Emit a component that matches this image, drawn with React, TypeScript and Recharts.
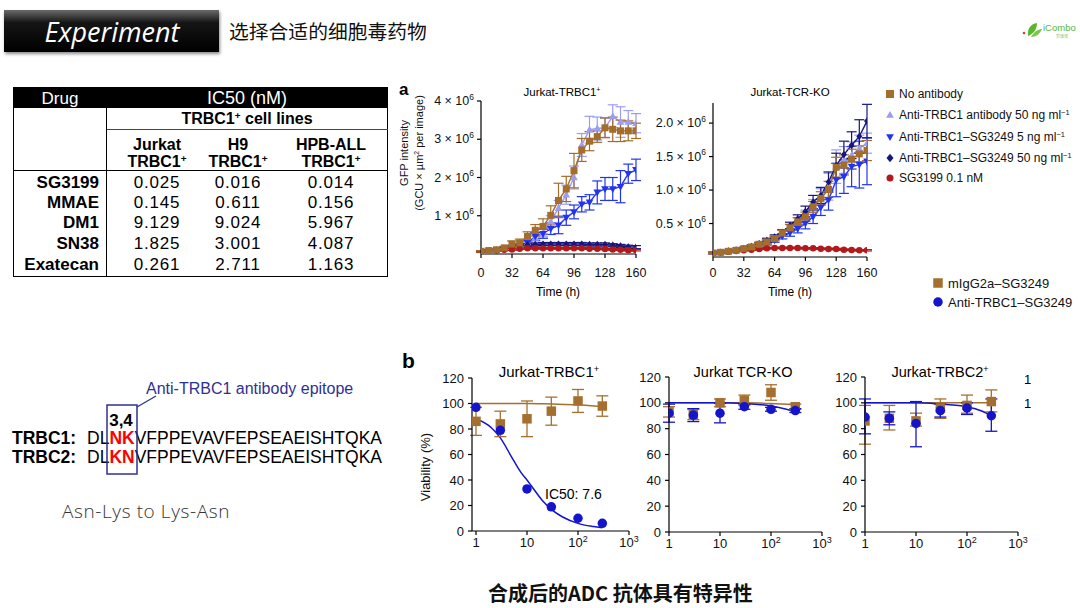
import React from 'react';
import { LineChart, Line, XAxis, YAxis, ErrorBar, ComposedChart, Scatter } from 'recharts';

const FONT = '"Liberation Sans", Arial, Helvetica, sans-serif';
const CJK = '"Noto Sans CJK SC", "Noto Sans", sans-serif';

// ---------------- Table data ----------------
const drugs = ['SG3199', 'MMAE', 'DM1', 'SN38', 'Exatecan'];
const cellLines = ['Jurkat', 'H9', 'HPB-ALL'];
const ic50Jurkat = ['0.025', '0.145', '9.129', '1.825', '0.261'];
const ic50H9 = ['0.016', '0.611', '9.024', '3.001', '2.711'];
const ic50HPB = ['0.014', '0.156', '5.967', '4.087', '1.163'];

// ---------------- Panel a: time courses (values in 10^6 GCU x um2 per image) ----------------
const hours = [0, 8, 16, 24, 32, 40, 48, 56, 64, 72, 80, 88, 96, 104, 112, 120, 128, 136, 144, 152, 160];
const hourTicks = [0, 32, 64, 96, 128, 160];

const a1NoAb = [0.07, 0.09, 0.11, 0.16, 0.26, 0.29, 0.46, 0.62, 0.72, 1.01, 1.4, 1.7, 2.18, 2.72, 2.95, 3.07, 3.3, 3.26, 3.22, 3.22, 3.22];
const a1NoAbErr = [0.02, 0.02, 0.03, 0.04, 0.08, 0.1, 0.12, 0.15, 0.2, 0.25, 0.45, 0.33, 0.45, 0.3, 0.25, 0.15, 0.26, 0.32, 0.28, 0.26, 0.2];
const a1Lav = [0.06, 0.08, 0.1, 0.13, 0.18, 0.22, 0.3, 0.42, 0.55, 0.85, 1.2, 1.55, 2.0, 2.85, 3.25, 3.28, 3.3, 3.6, 3.45, 3.45, 3.42];
const a1LavErr = [0.02, 0.02, 0.02, 0.03, 0.04, 0.05, 0.06, 0.08, 0.1, 0.15, 0.2, 0.25, 0.3, 0.3, 0.35, 0.3, 0.25, 0.3, 0.4, 0.3, 0.25];
const a1Blue = [0.06, 0.08, 0.1, 0.13, 0.18, 0.22, 0.29, 0.46, 0.53, 0.66, 0.75, 0.95, 1.1, 1.3, 1.35, 1.61, 1.7, 1.7, 1.76, 2.1, 2.2];
const a1BlueErr = [0.02, 0.02, 0.02, 0.03, 0.04, 0.05, 0.06, 0.1, 0.12, 0.15, 0.22, 0.2, 0.18, 0.2, 0.2, 0.3, 0.3, 0.3, 0.42, 0.25, 0.28];
const a1Navy = [0.06, 0.08, 0.1, 0.13, 0.17, 0.21, 0.24, 0.25, 0.26, 0.26, 0.26, 0.26, 0.26, 0.26, 0.25, 0.25, 0.25, 0.23, 0.21, 0.19, 0.18];
const a1NavyErr = [0.01, 0.01, 0.02, 0.02, 0.03, 0.03, 0.04, 0.04, 0.04, 0.04, 0.04, 0.04, 0.04, 0.04, 0.04, 0.04, 0.04, 0.04, 0.04, 0.04, 0.04];
const a1Red = [0.06, 0.07, 0.09, 0.11, 0.12, 0.14, 0.15, 0.15, 0.15, 0.15, 0.15, 0.15, 0.15, 0.15, 0.14, 0.14, 0.13, 0.12, 0.11, 0.1, 0.1];
const a1RedErr = [0.01, 0.01, 0.01, 0.02, 0.02, 0.02, 0.02, 0.02, 0.02, 0.02, 0.02, 0.02, 0.02, 0.02, 0.02, 0.02, 0.02, 0.02, 0.02, 0.02, 0.02];
const a1YTicks = [1e6, 2e6, 3e6, 4e6];
const a1YMant = ['1', '2', '3', '4'];

const a2NoAb = [0.06, 0.07, 0.085, 0.1, 0.125, 0.15, 0.19, 0.225, 0.275, 0.36, 0.435, 0.525, 0.6, 0.75, 0.875, 1.01, 1.34, 1.375, 1.46, 1.54, 1.59];
const a2NoAbErr = [0.01, 0.01, 0.01, 0.01, 0.015, 0.02, 0.02, 0.03, 0.03, 0.04, 0.05, 0.06, 0.07, 0.08, 0.1, 0.12, 0.15, 0.15, 0.15, 0.12, 0.15];
const a2Lav = [0.06, 0.07, 0.085, 0.1, 0.12, 0.15, 0.19, 0.23, 0.28, 0.36, 0.44, 0.53, 0.62, 0.76, 0.9, 1.05, 1.35, 1.45, 1.52, 1.62, 1.7];
const a2LavErr = [0.01, 0.01, 0.01, 0.01, 0.015, 0.02, 0.02, 0.03, 0.03, 0.04, 0.05, 0.06, 0.08, 0.1, 0.12, 0.2, 0.25, 0.2, 0.2, 0.2, 0.15];
const a2Blue = [0.06, 0.07, 0.085, 0.1, 0.12, 0.14, 0.17, 0.21, 0.25, 0.31, 0.36, 0.42, 0.5, 0.6, 0.74, 0.85, 1.15, 1.2, 1.35, 1.38, 1.43];
const a2BlueErr = [0.01, 0.01, 0.01, 0.01, 0.015, 0.02, 0.02, 0.03, 0.03, 0.04, 0.05, 0.06, 0.08, 0.1, 0.12, 0.15, 0.25, 0.25, 0.3, 0.35, 0.35];
const a2Navy = [0.06, 0.07, 0.09, 0.105, 0.13, 0.16, 0.2, 0.25, 0.3, 0.37, 0.47, 0.57, 0.68, 0.82, 0.92, 1.12, 1.37, 1.53, 1.67, 1.8, 2.03];
const a2NavyErr = [0.01, 0.01, 0.01, 0.01, 0.015, 0.02, 0.02, 0.03, 0.03, 0.04, 0.05, 0.06, 0.08, 0.1, 0.12, 0.15, 0.18, 0.2, 0.2, 0.25, 0.25];
const a2Red = [0.06, 0.07, 0.08, 0.09, 0.1, 0.11, 0.12, 0.13, 0.135, 0.135, 0.135, 0.135, 0.13, 0.13, 0.125, 0.12, 0.12, 0.11, 0.105, 0.1, 0.1];
const a2RedErr = [0.01, 0.01, 0.01, 0.01, 0.01, 0.01, 0.01, 0.01, 0.01, 0.01, 0.01, 0.01, 0.01, 0.01, 0.01, 0.01, 0.01, 0.01, 0.01, 0.01, 0.01];
const a2YTicks = [0.5e6, 1e6, 1.5e6, 2e6];
const a2YMant = ['0.5', '1.0', '1.5', '2.0'];

const aLegend = [
  'No antibody',
  'Anti-TRBC1 antibody 50 ng ml',
  'Anti-TRBC1–SG3249 5 ng ml',
  'Anti-TRBC1–SG3249 50 ng ml',
  'SG3199 0.1 nM',
];

// ---------------- Panel b: viability vs dose ----------------
const bDoses = [1, 3, 10, 30, 100, 300];
const bXTicks = [1, 10, 100, 1000];
const bXTickBase = ['1', '10', '10', '10'];
const bXTickSup = ['', '', '2', '3'];
const bYTicks = [0, 20, 40, 60, 80, 100, 120];

const b1Ctrl = [86, 84, 88, 94, 102, 98];
const b1CtrlErr = [11, 10, 14, 11, 9, 8];
const b1Anti = [97, 79, 33, 19, 10, 6];
const b1CtrlFitX = [1, 3, 10, 30, 100, 300];
const b1CtrlFitY = [100, 100, 100, 99.6, 99, 97.5];
const b1AntiFitX = [1, 2, 3, 5, 7.6, 10, 20, 30, 50, 100, 200, 300];
const b1AntiFitY = [88, 81, 73, 58, 46, 40, 24, 17, 11, 6, 3.5, 2.5];

const b2Ctrl = [93, 91, 100, 102, 108, 97];
const b2CtrlErr = [4, 4, 3, 4, 6, 2];
const b2Anti = [92, 90.5, 92, 97, 95, 94];
const b2AntiErr = [7, 5, 7.5, 2, 1.5, 1.5];
const b2CtrlFitX = [1, 10, 30, 100, 300];
const b2CtrlFitY = [100, 100, 100, 99.5, 98.5];
const b2AntiFitX = [1, 10, 30, 100, 200, 300];
const b2AntiFitY = [100, 100, 99.5, 97.5, 95, 93];

const b3Ctrl = [86, 88, 86, 96, 98, 101];
const b3CtrlErr = [[18, 12], [9, 10], [4, 6], [8, 7], [6, 8], [8, 9]];
const b3Anti = [89, 88, 84, 94, 96, 90];
const b3AntiErr = [[13, 14], [5, 5], [18, 17], [5, 5], [5, 4], [12, 13]];
const b3CtrlFitX = [1, 10, 100, 300];
const b3CtrlFitY = [100, 100, 100, 100];
const b3AntiFitX = [1, 10, 30, 100, 200, 300];
const b3AntiFitY = [100, 100, 99, 97, 93.5, 90];

// ---------------- colours ----------------
const C_BROWN = '#a36d2c';
const C_LAV = '#9c9cf3';
const C_BLUE = '#2234f2';
const C_NAVY = '#16167c';
const C_RED = '#b2191b';
const B_BROWN = '#a5702f';
const B_BLUE = '#1414cc';
const NAVY_TXT = '#2e3192';

// ---------------- helpers ----------------
const Mark = ({ shape, cx, cy, s, fill }: any) => {
  if (cx == null || cy == null || isNaN(cx) || isNaN(cy)) return <g />;
  const h = s / 2;
  if (shape === 'square') return <rect x={cx - h} y={cy - h} width={s} height={s} fill={fill} />;
  if (shape === 'up')
    return <polygon points={`${cx},${cy - h * 1.15} ${cx + h * 1.1},${cy + h * 0.8} ${cx - h * 1.1},${cy + h * 0.8}`} fill={fill} />;
  if (shape === 'down')
    return <polygon points={`${cx},${cy + h * 1.15} ${cx + h * 1.1},${cy - h * 0.8} ${cx - h * 1.1},${cy - h * 0.8}`} fill={fill} />;
  if (shape === 'diamond')
    return <polygon points={`${cx},${cy - h * 1.2} ${cx + h},${cy} ${cx},${cy + h * 1.2} ${cx - h},${cy}`} fill={fill} />;
  return <circle cx={cx} cy={cy} r={h} fill={fill} />;
};

const dotOf = (shape: string, s: number, fill: string) => (p: any) => (
  <Mark key={`m-${p.index}`} shape={shape} cx={p.cx} cy={p.cy} s={s} fill={fill} />
);

const SciTick = ({ x, y, payload, ticks, mants }: any) => {
  const i = ticks.indexOf(payload.value);
  if (i < 0) return <g />;
  return (
    <text x={x} y={y} textAnchor="end" dominantBaseline="central" fontSize={12.5} fontFamily={FONT} fill="#111">
      <tspan>{mants[i]} × 10</tspan>
      <tspan dy={-4.5} fontSize={8.5}>6</tspan>
    </text>
  );
};

const LogTick = ({ x, y, payload }: any) => {
  const i = bXTicks.indexOf(payload.value);
  if (i < 0) return <g />;
  return (
    <text x={x} y={y} textAnchor="middle" dy="0.71em" fontSize={13} fontFamily={FONT} fill="#111">
      <tspan>{bXTickBase[i]}</tspan>
      {bXTickSup[i] ? (
        <tspan dy={-5} fontSize={9}>
          {bXTickSup[i]}
        </tspan>
      ) : null}
    </text>
  );
};

const Txt = ({ x, y, children, size = 12, anchor = 'start', weight = 400, color = '#000', family = FONT, style = {} }: any) => {
  const tx = anchor === 'middle' ? '-50%' : anchor === 'end' ? '-100%' : '0';
  return (
    <div
      style={{
        position: 'absolute',
        left: x,
        top: y,
        transform: `translate(${tx},-50%)`,
        fontSize: size,
        fontWeight: weight,
        color,
        fontFamily: family,
        whiteSpace: 'nowrap',
        lineHeight: 1,
        ...style,
      }}
    >
      {children}
    </div>
  );
};

const Sup = ({ children }: any) => (
  <span style={{ fontSize: '0.62em', position: 'relative', top: '-0.55em' }}>{children}</span>
);

const axisStroke = { stroke: '#000', strokeWidth: 1.2 };

const buildTime = (noAb: number[], noAbE: number[], lav: number[], lavE: number[], blue: number[], blueE: number[], navy: number[], navyE: number[], red: number[], redE: number[]) =>
  hours.map((t, i) => ({
    t,
    lav: lav[i] * 1e6,
    lavErr: lavE[i] * 1e6,
    blue: blue[i] * 1e6,
    blueErr: blueE[i] * 1e6,
    navy: navy[i] * 1e6,
    navyErr: navyE[i] * 1e6,
    red: red[i] * 1e6,
    redErr: redE[i] * 1e6,
    noAb: noAb[i] * 1e6,
    noAbErr: noAbE[i] * 1e6,
  }));

const a1Data = buildTime(a1NoAb, a1NoAbErr, a1Lav, a1LavErr, a1Blue, a1BlueErr, a1Navy, a1NavyErr, a1Red, a1RedErr);
const a2Data = buildTime(a2NoAb, a2NoAbErr, a2Lav, a2LavErr, a2Blue, a2BlueErr, a2Navy, a2NavyErr, a2Red, a2RedErr);

const SERIES = [
  { key: 'lav', color: C_LAV, shape: 'up', size: 7 },
  { key: 'blue', color: C_BLUE, shape: 'down', size: 7 },
  { key: 'navy', color: C_NAVY, shape: 'diamond', size: 6 },
  { key: 'red', color: C_RED, shape: 'circle', size: 6.5 },
  { key: 'noAb', color: C_BROWN, shape: 'square', size: 7 },
];

function TimeChart({ left, top, width, height, margin, yAxisW, data, yMax, yTicks, yMants, xTickMargin }: any) {
  return (
    <div style={{ position: 'absolute', left, top }}>
      <LineChart width={width} height={height} data={data} margin={margin}>
        <XAxis
          type="number"
          dataKey="t"
          domain={[0, 160]}
          allowDataOverflow
          ticks={hourTicks}
          interval={0}
          height={40}
          tickSize={4}
          tickMargin={xTickMargin}
          axisLine={axisStroke}
          tickLine={axisStroke}
          tick={{ fontSize: 12.5, fill: '#111', fontFamily: FONT }}
        />
        <YAxis
          type="number"
          domain={[0, yMax]}
          allowDataOverflow
          ticks={yTicks}
          interval={0}
          width={yAxisW}
          tickSize={4}
          tickMargin={3}
          axisLine={axisStroke}
          tickLine={axisStroke}
          tick={(p: any) => <SciTick x={p.x} y={p.y} payload={p.payload} ticks={yTicks} mants={yMants} />}
        />
        {SERIES.map((s) => (
          <Line
            key={s.key}
            dataKey={s.key}
            type="linear"
            stroke={s.color}
            strokeWidth={1.4}
            dot={dotOf(s.shape, s.size, s.color)}
            activeDot={false}
            isAnimationActive={false}
          >
            <ErrorBar dataKey={s.key + 'Err'} direction="y" width={5} stroke={s.color} strokeWidth={1.2} />
          </Line>
        ))}
      </LineChart>
    </div>
  );
}

const toPts = (ys: number[], errs: any) => bDoses.map((x, i) => ({ x, y: ys[i], e: errs ? errs[i] : 0 }));
const toFit = (xs: number[], ys: number[]) => xs.map((x, i) => ({ x, y: ys[i] }));

function DoseChart({ left, top, width, height, margin, yAxisW, xMin, ctrl, ctrlErr, anti, antiErr, ctrlFit, antiFit }: any) {
  const ctrlPts = toPts(ctrl, ctrlErr);
  const antiPts = toPts(anti, antiErr);
  return (
    <div style={{ position: 'absolute', left, top }}>
      <ComposedChart width={width} height={height} margin={margin}>
        <XAxis
          type="number"
          dataKey="x"
          scale="log"
          domain={[xMin, 1000]}
          allowDataOverflow
          ticks={bXTicks}
          interval={0}
          height={30}
          tickSize={4}
          tickMargin={3}
          axisLine={axisStroke}
          tickLine={axisStroke}
          tick={(p: any) => <LogTick x={p.x} y={p.y} payload={p.payload} />}
        />
        <YAxis
          type="number"
          domain={[0, 120]}
          allowDataOverflow
          ticks={bYTicks}
          interval={0}
          width={yAxisW}
          tickSize={4}
          tickMargin={4}
          axisLine={axisStroke}
          tickLine={axisStroke}
          tick={{ fontSize: 13, fill: '#111', fontFamily: FONT }}
        />
        <Line data={ctrlFit} dataKey="y" type="monotone" stroke={B_BROWN} strokeWidth={1.5} dot={false} activeDot={false} isAnimationActive={false} />
        <Line data={antiFit} dataKey="y" type="monotone" stroke={B_BLUE} strokeWidth={1.5} dot={false} activeDot={false} isAnimationActive={false} />
        <Scatter
          data={ctrlPts}
          dataKey="y"
          fill={B_BROWN}
          isAnimationActive={false}
          shape={(p: any) => <Mark shape="square" cx={p.cx} cy={p.cy} s={9.5} fill={B_BROWN} />}
        >
          {ctrlErr ? <ErrorBar dataKey="e" direction="y" width={6} stroke={B_BROWN} strokeWidth={1.3} /> : null}
        </Scatter>
        <Scatter
          data={antiPts}
          dataKey="y"
          fill={B_BLUE}
          isAnimationActive={false}
          shape={(p: any) => <Mark shape="circle" cx={p.cx} cy={p.cy} s={9.5} fill={B_BLUE} />}
        >
          {antiErr ? <ErrorBar dataKey="e" direction="y" width={6} stroke={B_BLUE} strokeWidth={1.3} /> : null}
        </Scatter>
      </ComposedChart>
    </div>
  );
}

const tableCols = [157, 238, 331];
const tableRows = [182, 202, 222, 243, 264];

export default function App() {
  const aLegendShapes = ['square', 'up', 'down', 'diamond', 'circle'];
  const aLegendColors = [C_BROWN, C_LAV, C_BLUE, C_NAVY, C_RED];
  const aLegendY = [94, 115, 137, 158, 178];
  return (
    <div style={{ position: 'absolute', left: 0, top: 0, width: 1080, height: 608, background: '#fff', overflow: 'hidden', fontFamily: FONT }}>
      {/* Header */}
      <div
        style={{
          position: 'absolute',
          left: 4,
          top: 10,
          width: 215,
          height: 42,
          background: 'linear-gradient(#6a6a6a 0%, #151515 30%, #000 100%)',
          boxShadow: '1px 2px 3px rgba(0,0,0,0.45)',
        }}
      />
      <Txt x={112} y={31} anchor="middle" size={27} color="#fff" family='"Open Sans", "Lato", sans-serif' style={{ fontStyle: 'italic' }}>
        Experiment
      </Txt>
      <Txt x={229} y={31} size={19.8} family={CJK} color="#111">
        选择合适的细胞毒药物
      </Txt>

      {/* Logo */}
      <svg style={{ position: 'absolute', left: 1018, top: 14 }} width={62} height={30}>
        <circle cx={6} cy={19} r={1.3} fill="#e23b2e" />
        <path d="M10 22 C 9 14, 13 10, 19 9 C 19 16, 15 20, 10 22 Z" fill="#5cb531" />
        <path d="M13 23 C 16 17, 21 15, 24 15 C 22 20, 18 23, 13 23 Z" fill="#7cc84a" />
        <text x={25} y={17} fontSize={9.5} fill="#5cb531" fontFamily={FONT}>iCombo</text>
        <text x={38} y={24} fontSize={4} fill="#8cc870" fontFamily={CJK}>爱康博</text>
      </svg>

      {/* Table */}
      <div style={{ position: 'absolute', left: 13, top: 87, width: 375, height: 21, background: '#000' }} />
      <div style={{ position: 'absolute', left: 13, top: 87, width: 375, height: 190, border: '1.5px solid #000', boxSizing: 'border-box' }} />
      <div style={{ position: 'absolute', left: 106, top: 107, width: 1.3, height: 170, background: '#000' }} />
      <div style={{ position: 'absolute', left: 107, top: 129, width: 281, height: 1, background: '#444' }} />
      <div style={{ position: 'absolute', left: 13, top: 170, width: 375, height: 1.3, background: '#000' }} />
      <Txt x={60} y={98} anchor="middle" size={17} color="#fff">Drug</Txt>
      <Txt x={247} y={98} anchor="middle" size={18} color="#fff" weight={300}>IC50 (nM)</Txt>
      <Txt x={247} y={119} anchor="middle" size={16} weight={700}>
        TRBC1<Sup>+</Sup> cell lines
      </Txt>
      {cellLines.map((c, i) => (
        <React.Fragment key={c}>
          <Txt x={tableCols[i]} y={145} anchor="middle" size={16} weight={700}>{c}</Txt>
          <Txt x={tableCols[i]} y={162} anchor="middle" size={16} weight={700}>
            TRBC1<Sup>+</Sup>
          </Txt>
        </React.Fragment>
      ))}
      {drugs.map((d, r) => (
        <React.Fragment key={d}>
          <Txt x={99} y={tableRows[r]} anchor="end" size={17} weight={700}>{d}</Txt>
          <Txt x={tableCols[0]} y={tableRows[r]} anchor="middle" size={17} style={{ letterSpacing: 0.8 }}>{ic50Jurkat[r]}</Txt>
          <Txt x={tableCols[1]} y={tableRows[r]} anchor="middle" size={17} style={{ letterSpacing: 0.8 }}>{ic50H9[r]}</Txt>
          <Txt x={tableCols[2]} y={tableRows[r]} anchor="middle" size={17} style={{ letterSpacing: 0.8 }}>{ic50HPB[r]}</Txt>
        </React.Fragment>
      ))}

      {/* Panel a */}
      <Txt x={399} y={89} size={17} weight={700}>a</Txt>
      <Txt x={562} y={93} anchor="middle" size={11.5}>
        Jurkat-TRBC1<Sup>+</Sup>
      </Txt>
      <Txt x={790} y={93} anchor="middle" size={11.5}>Jurkat-TCR-KO</Txt>
      <div
        style={{
          position: 'absolute',
          left: 412,
          top: 153,
          transform: 'translate(-50%,-50%) rotate(-90deg)',
          fontSize: 11,
          lineHeight: '15px',
          textAlign: 'center',
          whiteSpace: 'nowrap',
          fontFamily: FONT,
          color: '#111',
        }}
      >
        GFP intensity
        <br />
        (GCU × µm<Sup>2</Sup> per image)
      </div>
      <TimeChart
        left={400}
        top={80}
        width={250}
        height={230}
        margin={{ top: 21, right: 14, bottom: 16, left: 0 }}
        yAxisW={81}
        data={a1Data}
        yMax={4e6}
        yTicks={a1YTicks}
        yMants={a1YMant}
        xTickMargin={10}
      />
      <TimeChart
        left={640}
        top={80}
        width={240}
        height={230}
        margin={{ top: 23, right: 13, bottom: 13, left: 0 }}
        yAxisW={73}
        data={a2Data}
        yMax={2.3e6}
        yTicks={a2YTicks}
        yMants={a2YMant}
        xTickMargin={7}
      />
      <Txt x={558} y={292} anchor="middle" size={12}>Time (h)</Txt>
      <Txt x={790} y={292} anchor="middle" size={12}>Time (h)</Txt>

      {/* Legends */}
      {aLegend.map((l, i) => (
        <Txt key={l} x={899} y={aLegendY[i]} size={12} color="#111">
          {l}
          {i >= 1 && i <= 3 ? <Sup>−1</Sup> : null}
        </Txt>
      ))}
      <Txt x={948} y={283} size={13} color="#111">mIgG2a–SG3249</Txt>
      <Txt x={948} y={302} size={13} color="#111">Anti-TRBC1–SG3249</Txt>

      {/* Sequence panel */}
      <Txt x={146} y={389} size={16} color={NAVY_TXT}>Anti-TRBC1 antibody epitope</Txt>
      <Txt x={121} y={420} anchor="middle" size={17} weight={700}>3,4</Txt>
      <Txt x={12} y={439} size={17.5} weight={700}>TRBC1:</Txt>
      <Txt x={87} y={439} size={17.5}>
        DL<span style={{ color: '#ff0000', fontWeight: 700 }}>NK</span>VFPPEVAVFEPSEAEISHTQKA
      </Txt>
      <Txt x={12} y={458} size={17.5} weight={700}>TRBC2:</Txt>
      <Txt x={87} y={458} size={17.5}>
        DL<span style={{ color: '#ff0000', fontWeight: 700 }}>KN</span>VFPPEVAVFEPSEAEISHTQKA
      </Txt>
      <Txt x={62} y={511} size={19} color="#333" family='"Open Sans", sans-serif' weight={300} style={{ letterSpacing: 0.6 }}>
        Asn-Lys to Lys-Asn
      </Txt>

      {/* Panel b */}
      <Txt x={402} y={360} size={21} weight={700}>b</Txt>
      <Txt x={549} y={372} anchor="middle" size={15}>
        Jurkat-TRBC1<Sup>+</Sup>
      </Txt>
      <Txt x={743} y={372} anchor="middle" size={14.5}>Jurkat TCR-KO</Txt>
      <Txt x={940} y={372} anchor="middle" size={14.5}>
        Jurkat-TRBC2<Sup>+</Sup>
      </Txt>
      <div
        style={{
          position: 'absolute',
          left: 425,
          top: 467,
          transform: 'translate(-50%,-50%) rotate(-90deg)',
          fontSize: 13,
          whiteSpace: 'nowrap',
          fontFamily: FONT,
          color: '#111',
        }}
      >
        Viability (%)
      </div>
      <DoseChart
        left={420}
        top={350}
        width={230}
        height={220}
        margin={{ top: 28, right: 21, bottom: 9, left: 0 }}
        yAxisW={52}
        xMin={0.835}
        ctrl={b1Ctrl}
        ctrlErr={b1CtrlErr}
        anti={b1Anti}
        antiErr={null}
        ctrlFit={toFit(b1CtrlFitX, b1CtrlFitY)}
        antiFit={toFit(b1AntiFitX, b1AntiFitY)}
      />
      <DoseChart
        left={620}
        top={350}
        width={220}
        height={220}
        margin={{ top: 27, right: 18, bottom: 8, left: 0 }}
        yAxisW={49}
        xMin={1}
        ctrl={b2Ctrl}
        ctrlErr={b2CtrlErr}
        anti={b2Anti}
        antiErr={b2AntiErr}
        ctrlFit={toFit(b2CtrlFitX, b2CtrlFitY)}
        antiFit={toFit(b2AntiFitX, b2AntiFitY)}
      />
      <DoseChart
        left={815}
        top={350}
        width={230}
        height={220}
        margin={{ top: 27, right: 27, bottom: 8, left: 0 }}
        yAxisW={50}
        xMin={1}
        ctrl={b3Ctrl}
        ctrlErr={b3CtrlErr}
        anti={b3Anti}
        antiErr={b3AntiErr}
        ctrlFit={toFit(b3CtrlFitX, b3CtrlFitY)}
        antiFit={toFit(b3AntiFitX, b3AntiFitY)}
      />
      <Txt x={545} y={494} size={14}>IC50: 7.6</Txt>
      <Txt x={1024} y={379} size={13}>1</Txt>
      <Txt x={1024} y={403} size={13}>1</Txt>

      <Txt x={488} y={593} size={20} weight={700} family={CJK} color="#111">
        合成后的ADC 抗体具有特异性
      </Txt>

      {/* Overlay shapes */}
      <svg style={{ position: 'absolute', left: 0, top: 0 }} width={1080} height={608}>
        {aLegendShapes.map((s, i) => (
          <Mark key={s} shape={s} cx={890} cy={aLegendY[i]} s={s === 'square' ? 8 : 7} fill={aLegendColors[i]} />
        ))}
        <Mark shape="square" cx={938} cy={283} s={9.5} fill={B_BROWN} />
        <Mark shape="circle" cx={938} cy={302} s={9.5} fill={B_BLUE} />
        <rect x={107} y={405} width={30} height={69} fill="none" stroke={NAVY_TXT} strokeWidth={1.5} />
        <line x1={137} y1={407} x2={156} y2={396} stroke={NAVY_TXT} strokeWidth={1.3} />
      </svg>
    </div>
  );
}
